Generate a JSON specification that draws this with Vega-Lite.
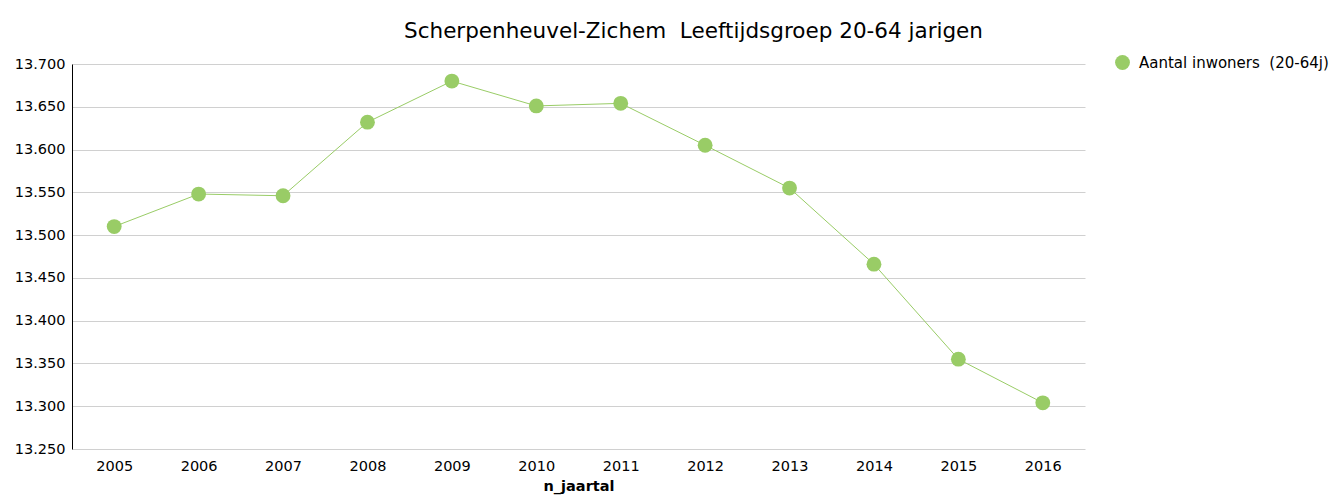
{
  "$schema": "https://vega.github.io/schema/vega-lite/v6.json",
  "width": 1013,
  "height": 385,
  "autosize": {"type": "none"},
  "padding": {"left": 72, "top": 64, "right": 257, "bottom": 52},
  "background": "white",
  "title": {
    "text": "Scherpenheuvel-Zichem\u00a0 Leeftijdsgroep 20-64 jarigen",
    "font": "DejaVu Sans",
    "fontSize": 21.5,
    "fontWeight": "normal",
    "color": "#000000",
    "anchor": "middle",
    "dx": 115,
    "offset": 13
  },
  "config": {
    "view": {"stroke": null},
    "font": "DejaVu Sans"
  },
  "data": {
    "values": [
      {"n_jaartal": "2005", "inwoners": 13510, "reeks": "Aantal inwoners\u00a0 (20-64j)"},
      {"n_jaartal": "2006", "inwoners": 13548, "reeks": "Aantal inwoners\u00a0 (20-64j)"},
      {"n_jaartal": "2007", "inwoners": 13546, "reeks": "Aantal inwoners\u00a0 (20-64j)"},
      {"n_jaartal": "2008", "inwoners": 13632, "reeks": "Aantal inwoners\u00a0 (20-64j)"},
      {"n_jaartal": "2009", "inwoners": 13680, "reeks": "Aantal inwoners\u00a0 (20-64j)"},
      {"n_jaartal": "2010", "inwoners": 13651, "reeks": "Aantal inwoners\u00a0 (20-64j)"},
      {"n_jaartal": "2011", "inwoners": 13654, "reeks": "Aantal inwoners\u00a0 (20-64j)"},
      {"n_jaartal": "2012", "inwoners": 13605, "reeks": "Aantal inwoners\u00a0 (20-64j)"},
      {"n_jaartal": "2013", "inwoners": 13555, "reeks": "Aantal inwoners\u00a0 (20-64j)"},
      {"n_jaartal": "2014", "inwoners": 13466, "reeks": "Aantal inwoners\u00a0 (20-64j)"},
      {"n_jaartal": "2015", "inwoners": 13355, "reeks": "Aantal inwoners\u00a0 (20-64j)"},
      {"n_jaartal": "2016", "inwoners": 13304, "reeks": "Aantal inwoners\u00a0 (20-64j)"}
    ]
  },
  "encoding": {
    "x": {
      "field": "n_jaartal",
      "type": "ordinal",
      "scale": {"type": "point", "padding": 0.5},
      "axis": {
        "title": "n_jaartal",
        "titleFont": "DejaVu Sans",
        "titleFontSize": 14.5,
        "titleFontWeight": "bold",
        "titleColor": "#000000",
        "titlePadding": 7,
        "labelAngle": 0,
        "labelFont": "DejaVu Sans",
        "labelFontSize": 14.5,
        "labelColor": "#000000",
        "labelPadding": 10,
        "ticks": false,
        "domain": false,
        "grid": false
      }
    },
    "y": {
      "field": "inwoners",
      "type": "quantitative",
      "scale": {"domain": [13250, 13700], "nice": false, "zero": false},
      "axis": {
        "title": null,
        "values": [13250, 13300, 13350, 13400, 13450, 13500, 13550, 13600, 13650, 13700],
        "format": ",.0f",
        "labelExpr": "replace(datum.label, ',', '.')",
        "labelFont": "DejaVu Sans",
        "labelFontSize": 14.5,
        "labelColor": "#000000",
        "labelPadding": 7,
        "ticks": false,
        "domain": true,
        "domainColor": "#000000",
        "domainWidth": 1,
        "grid": true,
        "gridColor": "#d0d0d0",
        "gridWidth": 1
      }
    },
    "color": {
      "field": "reeks",
      "type": "nominal",
      "scale": {"range": ["#99CC66"]},
      "legend": {
        "title": null,
        "orient": "none",
        "legendX": 1043,
        "legendY": -9,
        "symbolType": "circle",
        "symbolSize": 220,
        "symbolStrokeWidth": 0,
        "labelOffset": 9,
        "labelFont": "DejaVu Sans",
        "labelFontSize": 15,
        "labelColor": "#000000",
        "labelLimit": 300
      }
    }
  },
  "layer": [
    {"mark": {"type": "line", "strokeWidth": 1}},
    {"mark": {"type": "point", "filled": true, "size": 220, "opacity": 1}}
  ]
}
